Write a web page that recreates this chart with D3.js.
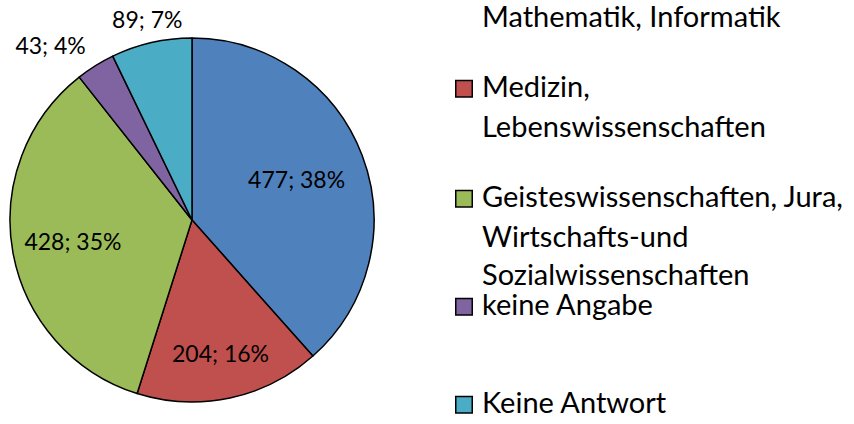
<!DOCTYPE html>
<html>
<head>
<meta charset="utf-8">
<script src="https://cdn.jsdelivr.net/npm/d3@7"></script>
<style>
    body { margin: 0; background: #fff; }
    svg { display: block; font-family: Lato, 'Open Sans', sans-serif; }
</style>
</head>
<body>
<script>
// categories, legend text split into lines as Excel wraps them
var categories = [
    ['Naturwissenschaften,', 'Mathematik, Informatik'],
    ['Medizin,', 'Lebenswissenschaften'],
    ['Geisteswissenschaften, Jura,', 'Wirtschafts-und', 'Sozialwissenschaften'],
    ['keine Angabe'],
    ['Keine Antwort']
];
var counts = [477, 204, 428, 43, 89];
var percents = ['38%', '16%', '35%', '4%', '7%'];
var colors = ['#4F81BD', '#C0504D', '#9BBB59', '#8064A2', '#4BACC6'];

var W = 854,
    H = 424,
    cx = 192,
    cy = 220,
    R = 182;

// label distance from centre (fraction of R), outside labels > 1
var labelR = [0.615, 0.75, 0.665, 1.1, 1.1];
// baseline of the first line of each legend entry (first one is clipped by the frame)
var legendY = [-13, 97, 207, 315, 413];

var svg = d3.select('body').append('svg')
    .attr('width', W)
    .attr('height', H);

var pie = d3.pie().sort(null).value(function(d) { return d; });
var arcs = pie(counts);

var arc = d3.arc().innerRadius(0).outerRadius(R);

var g = svg.append('g')
    .attr('transform', 'translate(' + [cx, cy] + ')');

g.selectAll('path.slice')
    .data(arcs)
    .enter().append('path')
    .attr('class', 'slice')
    .attr('d', arc)
    .attr('fill', function(d, i) { return colors[i]; })
    .attr('stroke', '#000')
    .attr('stroke-width', 1.5)
    .attr('stroke-linejoin', 'round');

g.selectAll('text.lbl')
    .data(arcs)
    .enter().append('text')
    .attr('class', 'lbl')
    .attr('transform', function(d, i) {
        var a = (d.startAngle + d.endAngle) / 2,
            r = R * labelR[i];
        return 'translate(' + [r * Math.sin(a), -r * Math.cos(a)] + ')';
    })
    .attr('text-anchor', function(d, i) {
        if (labelR[i] <= 1) return 'middle';
        var s = Math.sin((d.startAngle + d.endAngle) / 2);
        return Math.abs(s) < 0.3 ? 'middle' : (s < 0 ? 'end' : 'start');
    })
    .attr('dy', function(d, i) { return labelR[i] <= 1 ? '0.35em' : '0.15em'; })
    .style('font-size', '23px')
    .attr('fill', '#000')
    .text(function(d, i) { return counts[i] + '; ' + percents[i]; });

var legend = svg.append('g')
    .attr('transform', 'translate(455,0)');

var item = legend.selectAll('g.item')
    .data(categories)
    .enter().append('g')
    .attr('class', 'item')
    .attr('transform', function(d, i) { return 'translate(0,' + legendY[i] + ')'; });

item.filter(function(d, i) { return legendY[i] > 0; })
    .append('rect')
    .attr('x', 0.75)
    .attr('y', -16.5)
    .attr('width', 16.5)
    .attr('height', 16.5)
    .attr('fill', function(d) { return colors[categories.indexOf(d)]; })
    .attr('stroke', '#000')
    .attr('stroke-width', 1.5);

item.each(function(lines, i) {
    var el = d3.select(this);
    lines.forEach(function(line, j) {
        var y = (i === 2 && j === 2) ? 78 : j * 40;
        // lines above the frame are not drawn
        if (legendY[i] + y < 5) return;
        el.append('text')
            .attr('x', 27)
            .attr('y', y)
            .style('font-size', '29px')
            .attr('fill', '#000')
            .text(line);
    });
});
</script>
</body>
</html>
